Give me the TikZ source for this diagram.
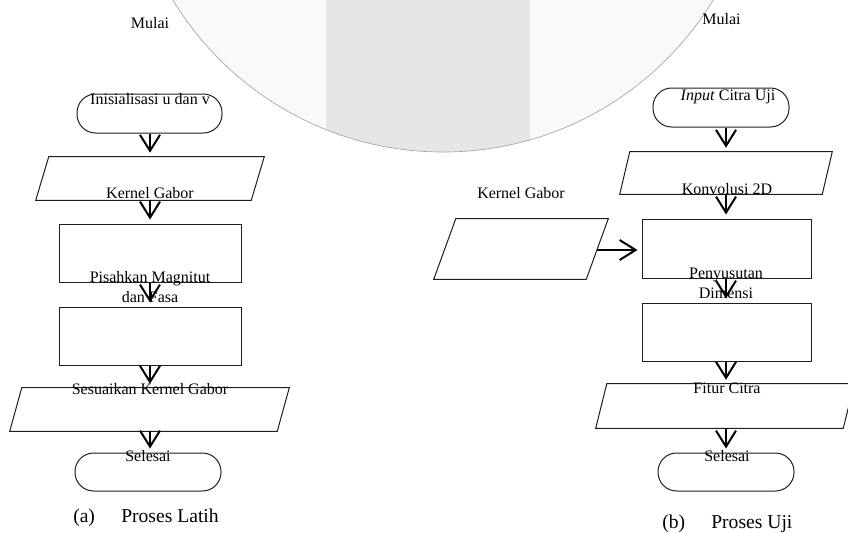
\documentclass[tikz,border=0pt]{standalone}
\usepackage{fontspec}
\setmainfont{Liberation Serif}
\usetikzlibrary{arrows.meta,calc}
\definecolor{circfill}{RGB}{249,249,249}
\definecolor{bandfill}{RGB}{230,230,232}
\definecolor{circedge}{RGB}{165,165,165}
\definecolor{shapeline}{RGB}{30,30,30}
\tikzset{
  box/.style={draw=shapeline, line width=0.75pt, inner sep=0pt},
  termbox/.style={box, rounded corners=14pt},
  pbox/.style={draw=none, inner sep=0pt},
  txt/.style={inner sep=0pt, font=\fontsize{12}{15}\selectfont, align=center},
  captxt/.style={inner sep=0pt, anchor=base west, font=\fontsize{14.7}{17}\selectfont},
  flow/.style={line width=1.5pt, -{Straight Barb[length=12pt,width=15pt]}, shorten >=3pt},
  para/.style={draw=shapeline, line width=0.75pt}
}
\begin{document}
\begin{tikzpicture}[x=0.75pt,y=-0.75pt]
\useasboundingbox (0,0) rectangle (848,532);
% background watermark circle
\begin{scope}
  \clip (0,0) rectangle (848,532);
  \fill[circfill] (443,-164) circle (316*0.75pt);
  \begin{scope}
    \clip (443,-164) circle (316*0.75pt);
    \fill[bandfill] (326,-10) rectangle (530,170);
  \end{scope}
  \draw[circedge, line width=0.5pt] (443,-164) circle (316*0.75pt);
\end{scope}

% ---------- left: Proses Latih ----------
\node[termbox, minimum width=145*0.75pt, minimum height=39*0.75pt] (t1) at (149.5,113.5) {};
\node[pbox, minimum width=228*0.75pt, minimum height=43*0.75pt] (p1) at (150,178.5) {};
\draw[para] ($(p1.north west)+(13,0)$) -- (p1.north east) -- ($(p1.south east)+(-13,0)$) -- (p1.south west) -- cycle;
\node[box, minimum width=182*0.75pt, minimum height=58*0.75pt] (r1) at (150,253) {};
\node[box, minimum width=182*0.75pt, minimum height=58*0.75pt] (r2) at (150,336) {};
\node[pbox, minimum width=279*0.75pt, minimum height=43*0.75pt] (p2) at (149.5,409.5) {};
\draw[para] ($(p2.north west)+(12,0)$) -- (p2.north east) -- ($(p2.south east)+(-12,0)$) -- (p2.south west) -- cycle;
\node[termbox, minimum width=146*0.75pt, minimum height=38*0.75pt] (t2) at (148,472) {};

\node[txt] (mulaiA) at (150,23) {Mulai};
\node[txt] (lt1) at (150,99) {Inisialisasi u dan v};
\node[txt] (lp1) at (150,193.5) {Kernel Gabor};
\node[txt] (lr1) at (150,287) {Pisahkan Magnitut\\dan Fasa};
\node[txt] (lp2) at (150,389) {Sesuaikan Kernel Gabor};
\node[txt] (lt2) at (148,456) {Selesai};
\node[captxt] (capa1) at (73,522) {(a)};
\node[captxt] (capa2) at (121,522) {Proses Latih};

\coordinate (lx) at (150,0);
\draw[flow] (t1.south -| lx) -- (p1.north -| lx);
\draw[flow] (p1.south -| lx) -- (r1.north -| lx);
\draw[flow] (r1.south -| lx) -- (r2.north -| lx);
\draw[flow] (r2.south -| lx) -- (p2.north -| lx);
\draw[flow] (p2.south -| lx) -- (t2.north -| lx);

% ---------- right: Proses Uji ----------
\node[termbox, minimum width=136*0.75pt, minimum height=39*0.75pt] (t3) at (721,107.5) {};
\node[pbox, minimum width=212*0.75pt, minimum height=42*0.75pt] (p3) at (726,173) {};
\draw[para] ($(p3.north west)+(10,0)$) -- (p3.north east) -- ($(p3.south east)+(-10,0)$) -- (p3.south west) -- cycle;
\node[box, minimum width=169*0.75pt, minimum height=59*0.75pt] (r3) at (726.5,248.5) {};
\node[pbox, minimum width=174*0.75pt, minimum height=60*0.75pt] (p4) at (521,249) {};
\draw[para] ($(p4.north west)+(22,0)$) -- (p4.north east) -- ($(p4.south east)+(-22,0)$) -- (p4.south west) -- cycle;
\node[box, minimum width=169*0.75pt, minimum height=58*0.75pt] (r4) at (726.5,332) {};
\node[pbox, minimum width=258*0.75pt, minimum height=44*0.75pt] (p5) at (725,406) {};
\draw[para] ($(p5.north west)+(11,0)$) -- (p5.north east) -- ($(p5.south east)+(-11,0)$) -- (p5.south west) -- cycle;
\node[termbox, minimum width=136*0.75pt, minimum height=38*0.75pt] (t4) at (726,472) {};

\node[txt] (mulaiB) at (721.5,19) {Mulai};
\node[txt] (rt3) at (728,97) {\textit{Input} Citra Uji};
\node[txt] (rp3) at (727,189) {Konvolusi 2D};
\node[txt] (rr3) at (726,283.5) {Penyusutan\\Dimensi};
\node[txt] (rp4) at (521,193.5) {Kernel Gabor};
\node[txt] (rp5) at (727,388) {Fitur Citra};
\node[txt] (rt4) at (727,456) {Selesai};
\node[captxt] (capb1) at (662,528) {(b)};
\node[captxt] (capb2) at (711,528) {Proses Uji};

\coordinate (rx) at (726,0);
\coordinate (hy) at (0,250);
\draw[flow] (t3.south -| rx) -- (p3.north -| rx);
\draw[flow] (p3.south -| rx) -- (r3.north -| rx);
\draw[flow] (r3.south -| rx) -- (r4.north -| rx);
\draw[flow] (r4.south -| rx) -- (p5.north -| rx);
\draw[flow] (p5.south -| rx) -- (t4.north -| rx);
\coordinate (kgout) at ($(p4.east |- hy)+(-11,0)$);
\draw[flow] (kgout) -- (r3.west |- hy);
\end{tikzpicture}
\end{document}
